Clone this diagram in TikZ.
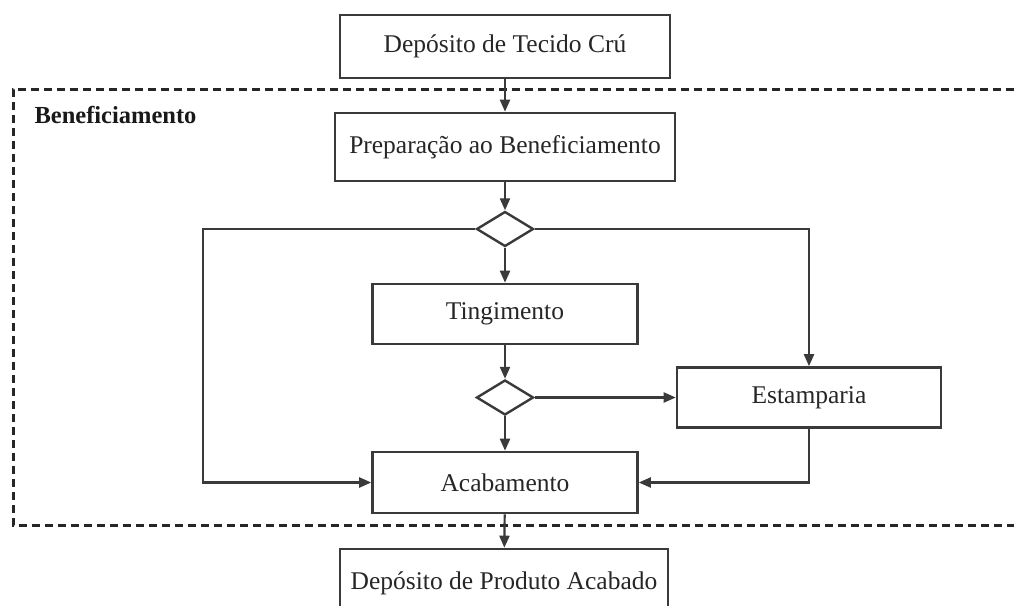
\documentclass[tikz,border=0pt]{standalone}
\usepackage{fontspec}
\setmainfont{Liberation Serif}
\usetikzlibrary{shapes.geometric,arrows.meta}
\definecolor{ink}{HTML}{3A3A3A}
\tikzset{
  proc/.style={draw=ink, line width=2.6pt, fill=white, inner sep=0pt, align=center,
    text=black!85, font=\fontsize{25.5}{30}\selectfont},
  decis/.style={draw=ink, line width=2.4pt, diamond, inner sep=0pt,
    minimum width=57pt, minimum height=35pt},
  arr/.style={draw=ink, line width=2.2pt, -{Triangle[length=12pt,width=10pt]}},
  region/.style={draw=black!85, line width=3pt, dash pattern=on 8pt off 5pt}
}
\begin{document}
\begin{tikzpicture}[x=1pt,y=-1pt]
\useasboundingbox (0,0) rectangle (1014,605);
\clip (0,0) rectangle (1014,605);
\fill[white] (0,0) rectangle (1014,605);
% region
\draw[region] (1040,89) -- (13,89) -- (13,525) -- (1040,525);
\node[anchor=west, font=\fontsize{24.5}{28}\selectfont\bfseries, text=black!90] (lbl) at (31,115) {Beneficiamento};
% nodes
\node[proc, minimum width=330pt, minimum height=63pt] (top) at (505,46.5) {Depósito de Tecido Crú};
\node[proc, minimum width=340pt, minimum height=68pt] (prep) at (505,147) {Preparação ao Beneficiamento};
\node[decis] (d1) at (505,229) {};
\node[proc, minimum width=265pt, minimum height=60pt] (ting) at (505,314) {Tingimento};
\node[decis] (d2) at (505,397.5) {};
\node[proc, minimum width=264pt, minimum height=60pt] (estamp) at (809,397.5) {Estamparia};
\node[proc, minimum width=265pt, minimum height=61pt] (acab) at (505,482.5) {Acabamento};
\node[proc, minimum width=328pt, minimum height=64pt, text depth=0pt] (bot) at (504,581) {Depósito de Produto Acabado};
\coordinate (L) at (203,229);
% connectors
\draw[arr] (top) -- (prep);
\draw[arr] (prep) -- (d1);
\draw[arr] (d1) -- (ting);
\draw[arr] (ting) -- (d2);
\draw[arr] (d2) -- (acab);
\draw[arr] (d2.east) -- (estamp.west);
\draw[arr] (d1.west) -- (L) |- (acab.west);
\draw[arr] (d1.east) -| (estamp.north);
\draw[arr] (estamp.south) |- (acab.east);
\draw[arr] (acab) -- (bot);
\end{tikzpicture}
\end{document}
